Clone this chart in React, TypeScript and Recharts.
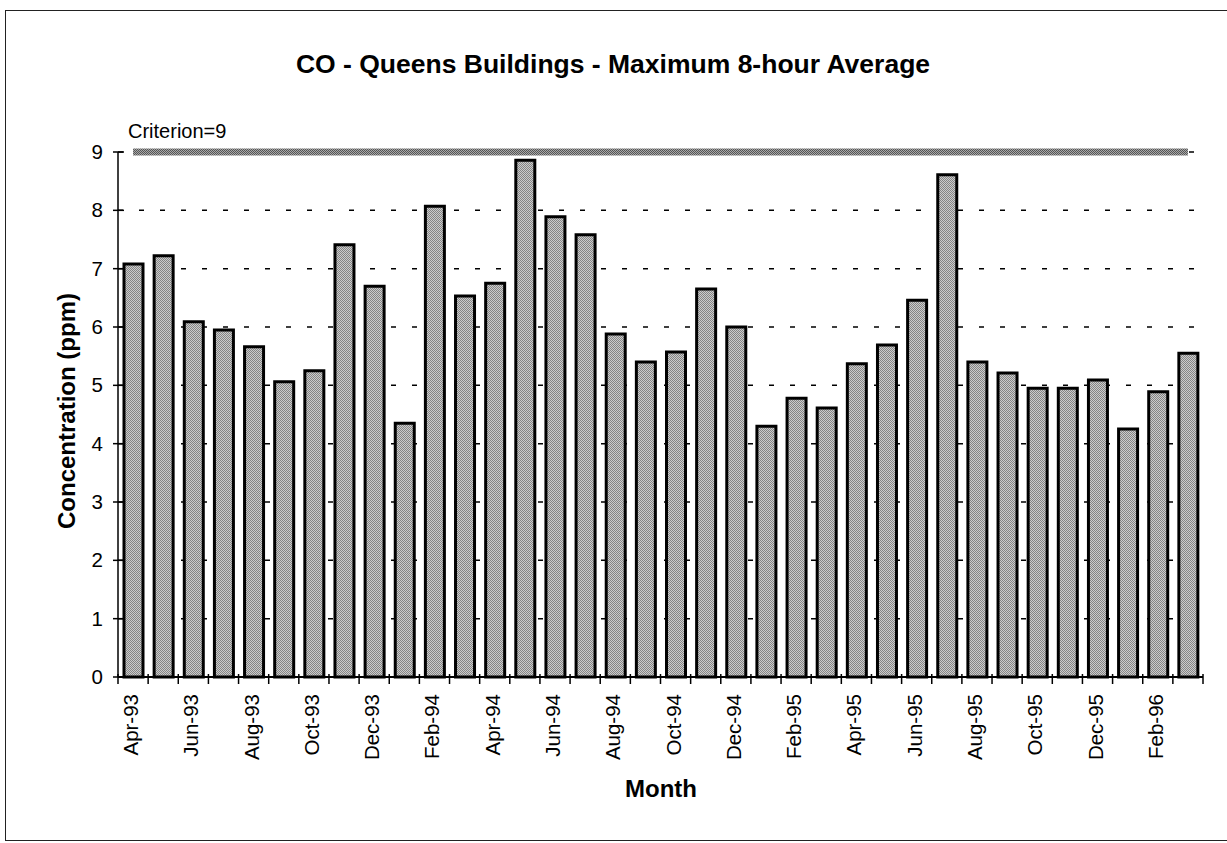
import React from 'react';
import { BarChart, Bar, XAxis, YAxis, CartesianGrid, ReferenceLine } from 'recharts';

const months = [
  'Apr-93', 'May-93', 'Jun-93', 'Jul-93', 'Aug-93', 'Sep-93', 'Oct-93', 'Nov-93', 'Dec-93',
  'Jan-94', 'Feb-94', 'Mar-94', 'Apr-94', 'May-94', 'Jun-94', 'Jul-94', 'Aug-94', 'Sep-94',
  'Oct-94', 'Nov-94', 'Dec-94', 'Jan-95', 'Feb-95', 'Mar-95', 'Apr-95', 'May-95', 'Jun-95',
  'Jul-95', 'Aug-95', 'Sep-95', 'Oct-95', 'Nov-95', 'Dec-95', 'Jan-96', 'Feb-96', 'Mar-96',
];
const concentration = [
  7.08, 7.22, 6.09, 5.95, 5.66, 5.06, 5.25, 7.41, 6.7,
  4.35, 8.07, 6.53, 6.75, 8.86, 7.89, 7.58, 5.88, 5.4,
  5.57, 6.65, 6.0, 4.3, 4.78, 4.61, 5.37, 5.69, 6.46,
  8.61, 5.4, 5.21, 4.95, 4.95, 5.09, 4.25, 4.89, 5.55,
];
const yTicks = [0, 1, 2, 3, 4, 5, 6, 7, 8, 9];
const criterion = 9;
const title = 'CO - Queens Buildings - Maximum 8-hour Average';
const criterionLabel = 'Criterion=9';
const yTitle = 'Concentration (ppm)';
const xTitle = 'Month';

const data = months.map((m, i) => ({ month: m, value: concentration[i] }));

const FONT = "'Liberation Sans', Arial, Helvetica, sans-serif";
const CHART_W = 1227;
const CHART_H = 843;
const PLOT_LEFT = 118;
const PLOT_RIGHT = 1203;
const HALF_BAND = (PLOT_RIGHT - PLOT_LEFT) / months.length / 2;

const XTick = (props: any) => {
  const { x, y, payload, index } = props;
  const half = HALF_BAND;
  const isLast = index === months.length - 1;
  return (
    <g>
      <line x1={x - half} x2={x - half} y1={y - 3} y2={y + 7} stroke="#000" strokeWidth={1.5} />
      {isLast && (
        <line x1={x + half} x2={x + half} y1={y - 3} y2={y + 7} stroke="#000" strokeWidth={1.5} />
      )}
      {index % 2 === 0 && (
        <text
          transform={`translate(${x + 5},${y + 17}) rotate(-90)`}
          textAnchor="end"
          fontSize={20.5}
          fontFamily={FONT}
          fill="#000"
        >
          {payload.value}
        </text>
      )}
    </g>
  );
};

const YTick = (props: any) => {
  const { x, y, payload } = props;
  return (
    <g>
      <line x1={x - 5} x2={x + 6} y1={y} y2={y} stroke="#000" strokeWidth={1.5} />
      <text x={x - 15} y={y} dy={7} textAnchor="end" fontSize={20.5} fontFamily={FONT} fill="#000">
        {payload.value}
      </text>
    </g>
  );
};

export default function App() {
  return (
    <div style={{ position: 'absolute', left: 0, top: 0, width: CHART_W, height: CHART_H, background: '#fff', overflow: 'hidden' }}>
      <div
        style={{
          position: 'absolute',
          left: 5,
          top: 10,
          width: 1222,
          height: 831,
          boxSizing: 'border-box',
          borderLeft: '1.5px solid #222',
          borderTop: '1.5px solid #222',
          borderBottom: '1.5px solid #222',
        }}
      />
      <div style={{ position: 'absolute', left: 0, top: 0 }}>
        <BarChart
          width={CHART_W}
          height={CHART_H}
          data={data}
          margin={{ top: 152, right: CHART_W - PLOT_RIGHT, bottom: 56, left: PLOT_LEFT - 60 }}
          barCategoryGap={0}
        >
          <defs>
            <pattern id="stipple" patternUnits="userSpaceOnUse" width={2} height={2}>
              <rect x={0} y={0} width={2} height={2} fill="#cccccc" />
              <rect x={0} y={0} width={1} height={1} fill="#858585" />
              <rect x={1} y={1} width={1} height={1} fill="#858585" />
            </pattern>
            <pattern id="stippleDark" patternUnits="userSpaceOnUse" width={2} height={2}>
              <rect x={0} y={0} width={2} height={2} fill="#a8a8a8" />
              <rect x={0} y={0} width={1} height={1} fill="#555555" />
              <rect x={1} y={1} width={1} height={1} fill="#555555" />
            </pattern>
          </defs>
          <CartesianGrid vertical={false} stroke="#000" strokeWidth={1.5} strokeDasharray="5 16" />
          <XAxis
            dataKey="month"
            interval={0}
            height={110}
            tickSize={0}
            tickMargin={0}
            tick={<XTick />}
            axisLine={{ stroke: '#000', strokeWidth: 2 }}
          />
          <YAxis
            domain={[0, 9]}
            ticks={yTicks}
            interval={0}
            width={60}
            tickSize={0}
            tickMargin={0}
            tick={<YTick />}
            axisLine={{ stroke: '#000', strokeWidth: 1.5 }}
          />
          <ReferenceLine
            segment={[
              { x: months[0], y: criterion },
              { x: months[months.length - 1], y: criterion },
            ]}
            stroke="url(#stippleDark)"
            strokeWidth={7}
            ifOverflow="visible"
          />
          <Bar
            dataKey="value"
            fill="url(#stipple)"
            stroke="#000"
            strokeWidth={3}
            barSize={19}
            isAnimationActive={false}
          />
        </BarChart>
      </div>
      <svg
        width={CHART_W}
        height={CHART_H}
        style={{ position: 'absolute', left: 0, top: 0, pointerEvents: 'none' }}
      >
        <text x={613} y={73} textAnchor="middle" fontSize={26.5} fontWeight="bold" fontFamily={FONT} fill="#000">
          {title}
        </text>
        <text x={128} y={138} fontSize={20} fontFamily={FONT} fill="#000">
          {criterionLabel}
        </text>
        <text
          transform="translate(75,411) rotate(-90)"
          textAnchor="middle"
          fontSize={24}
          fontWeight="bold"
          fontFamily={FONT}
          fill="#000"
        >
          {yTitle}
        </text>
        <text x={661} y={797} textAnchor="middle" fontSize={24} fontWeight="bold" fontFamily={FONT} fill="#000">
          {xTitle}
        </text>
      </svg>
    </div>
  );
}
